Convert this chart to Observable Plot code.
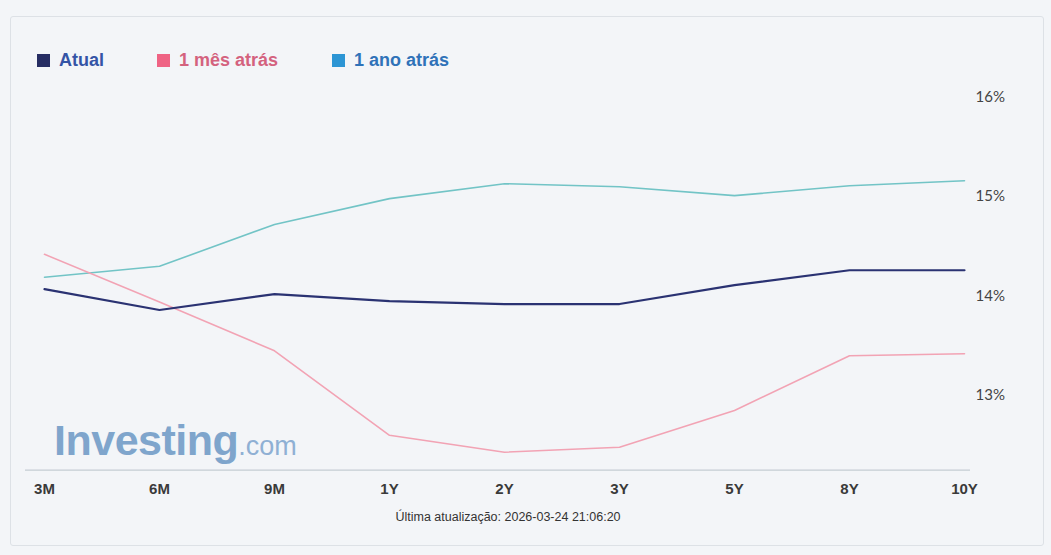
<!DOCTYPE html>
<html>
<head>
<meta charset="utf-8">
<script src="https://cdn.jsdelivr.net/npm/d3@7"></script>
<script src="https://cdn.jsdelivr.net/npm/@observablehq/plot@0.6"></script>
<style>
  html, body { margin: 0; padding: 0; background: #f3f5f8; }
  #wrap { position: relative; width: 1051px; height: 555px; overflow: hidden; background: #f3f5f8; }
  #frame { position: absolute; left: 10px; top: 16px; width: 1032px; height: 528px; border: 1px solid #dde1e6; border-radius: 3px; }
  #legend { position: absolute; left: 0; top: 0; width: 1051px; height: 80px; font-family: Arial, "Liberation Sans", sans-serif; font-weight: bold; font-size: 18px; }
  .item { position: absolute; top: 50px; display: flex; align-items: center; gap: 9px; }
  .sw { width: 13px; height: 13px; display: inline-block; }
  #chart { position: absolute; left: 0; top: 80px; }
  #wm { position: absolute; left: 54px; top: 416px; font-family: Arial, "Liberation Sans", sans-serif; color: #7fa5cc; white-space: nowrap; }
  #wm .big { font-size: 43px; font-weight: bold; letter-spacing: -0.5px; }
  #wm .small { font-size: 27px; font-weight: normal; color: #8fb0d4; }
  #footer { position: absolute; left: 0; top: 510px; width: 1016px; text-align: center; font-family: Arial, "Liberation Sans", sans-serif; font-size: 12.5px; color: #333; }
</style>
</head>
<body>
<div id="wrap">
  <div id="frame"></div>
  <div id="legend"></div>
  <div id="wm"><span class="big">Investing</span><span class="small">.com</span></div>
  <div id="chart"></div>
  <div id="footer"></div>
</div>
<script>
// Categories (maturities)
const maturities = ["3M", "6M", "9M", "1Y", "2Y", "3Y", "5Y", "8Y", "10Y"];
// Series values (%)
const atual     = [14.07, 13.86, 14.02, 13.95, 13.92, 13.92, 14.11, 14.26, 14.26];
const mesAtras  = [14.42, 13.94, 13.45, 12.60, 12.43, 12.48, 12.85, 13.40, 13.42];
const anoAtras  = [14.19, 14.30, 14.72, 14.98, 15.13, 15.10, 15.01, 15.11, 15.16];
const seriesNames = ["Atual", "1 mês atrás", "1 ano atrás"];
const yTicks = [13, 14, 15, 16];
const yDomain = [12.25, 16.0];
const updatedText = "Última atualização: 2026-03-24 21:06:20";

const lineColors = ["#2a3272", "#f2a3b4", "#72c4c6"];
const swatchColors = ["#262d63", "#ef6384", "#2c95d4"];
const textColors = ["#3454a6", "#d4627e", "#2f72b8"];
const legendX = [37, 157, 332];

const seriesValues = [atual, mesAtras, anoAtras];
const data = seriesNames.flatMap((s, i) =>
  maturities.map((m, j) => ({ series: s, maturity: m, value: seriesValues[i][j] }))
);

// Legend
const legend = document.getElementById("legend");
seriesNames.forEach((s, i) => {
  const d = document.createElement("div");
  d.className = "item";
  d.style.left = legendX[i] + "px";
  d.innerHTML = `<span class="sw" style="background:${swatchColors[i]}"></span><span style="color:${textColors[i]}">${s}</span>`;
  legend.appendChild(d);
});

document.getElementById("footer").textContent = updatedText;

const plot = Plot.plot({
  width: 1051,
  height: 420,
  marginLeft: 41,
  marginRight: 85,
  marginTop: 16.7,
  marginBottom: 30.4,
  style: { background: "transparent", overflow: "visible" },
  x: { type: "point", domain: maturities, padding: 0, label: null },
  y: { domain: yDomain, label: null },
  color: { domain: seriesNames, range: lineColors },
  marks: [
    Plot.ruleY([yDomain[0]], { stroke: "#c5ccd3", strokeWidth: 1.2, insetLeft: -16, insetRight: -4 }),
    Plot.axisX({
      tickSize: 0, tickPadding: 13, label: null,
      fontFamily: "'Liberation Sans Narrow', 'Arial Narrow', Arial, sans-serif",
      fontSize: 15, fontWeight: "bold", fill: "#3a3a3a"
    }),
    Plot.axisY({
      anchor: "right", ticks: yTicks, tickSize: 0, tickPadding: 9, label: null,
      tickFormat: d => d + "%",
      fontFamily: "Lato, 'Open Sans', sans-serif", fontSize: 15, fill: "#444"
    }),
    Plot.line(data.filter(d => d.series === seriesNames[2]), {
      x: "maturity", y: "value", stroke: lineColors[2], strokeWidth: 1.6
    }),
    Plot.line(data.filter(d => d.series === seriesNames[1]), {
      x: "maturity", y: "value", stroke: lineColors[1], strokeWidth: 1.6
    }),
    Plot.line(data.filter(d => d.series === seriesNames[0]), {
      x: "maturity", y: "value", stroke: lineColors[0], strokeWidth: 2.2
    })
  ]
});
document.getElementById("chart").appendChild(plot);
</script>
</body>
</html>
